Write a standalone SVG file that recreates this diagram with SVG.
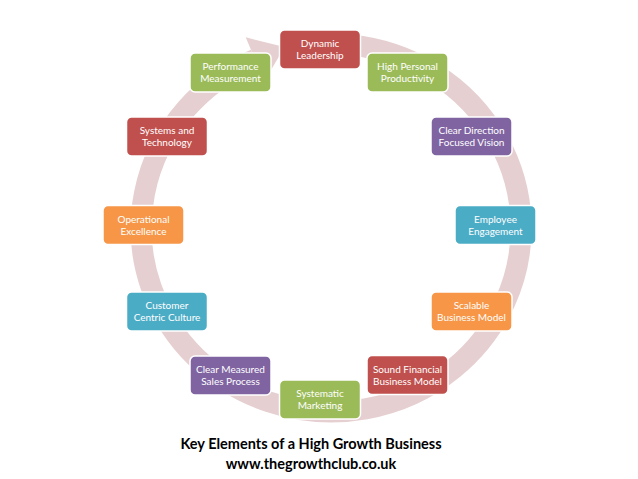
<svg xmlns="http://www.w3.org/2000/svg" width="638" height="479" viewBox="0 0 638 479">
<style>
.box{stroke:#ffffff;stroke-width:1.5}
.red{fill:#C0504D}.green{fill:#9BBB59}.purple{fill:#8064A2}.teal{fill:#4BACC6}.orange{fill:#F79646}
.lbl{font-family:Lato,"Liberation Sans",sans-serif;font-size:10px;fill:#ffffff;text-anchor:middle}
.title{font-family:Lato,"Liberation Sans",sans-serif;font-size:14.5px;font-weight:bold;fill:#000000;text-anchor:middle}
.ring{fill:none;stroke:#E6CFD1;stroke-width:21}
</style>
<rect width="638" height="479" fill="#ffffff"/>
<g id="connectors">
<path class="ring" d="M340,44.2 A190,184 0 1 1 255,59.4"/>
<polygon points="245.7,37.3 264.3,81.5 284.5,47" fill="#E6CFD1"/>
</g>
<g id="n0"><rect class="box red" x="279.5" y="30" width="81" height="39" rx="5"/><text class="lbl" x="320" y="47">Dynamic</text><text class="lbl" x="320" y="59">Leadership</text></g>
<g id="n1"><rect class="box green" x="367" y="53" width="81" height="39" rx="5"/><text class="lbl" x="407.5" y="70">High Personal</text><text class="lbl" x="407.5" y="82">Productivity</text></g>
<g id="n2"><rect class="box purple" x="431" y="117" width="81" height="39" rx="5"/><text class="lbl" x="471.5" y="134">Clear Direction</text><text class="lbl" x="471.5" y="146">Focused Vision</text></g>
<g id="n3"><rect class="box teal" x="455" y="205.5" width="81" height="39" rx="5"/><text class="lbl" x="495.5" y="222.5">Employee</text><text class="lbl" x="495.5" y="234.5">Engagement</text></g>
<g id="n4"><rect class="box orange" x="431" y="292" width="81" height="39" rx="5"/><text class="lbl" x="471.5" y="309">Scalable</text><text class="lbl" x="471.5" y="321">Business Model</text></g>
<g id="n5"><rect class="box red" x="367" y="355.5" width="81" height="39" rx="5"/><text class="lbl" x="407.5" y="372.5">Sound Financial</text><text class="lbl" x="407.5" y="384.5">Business Model</text></g>
<g id="n6"><rect class="box green" x="279.5" y="380" width="81" height="39" rx="5"/><text class="lbl" x="320" y="397">Systematic</text><text class="lbl" x="320" y="409">Marketing</text></g>
<g id="n7"><rect class="box purple" x="190" y="356" width="81" height="39" rx="5"/><text class="lbl" x="230.5" y="373">Clear Measured</text><text class="lbl" x="230.5" y="385">Sales Process</text></g>
<g id="n8"><rect class="box teal" x="126.5" y="292" width="81" height="39" rx="5"/><text class="lbl" x="167" y="309">Customer</text><text class="lbl" x="167" y="321">Centric Culture</text></g>
<g id="n9"><rect class="box orange" x="103" y="205.5" width="81" height="39" rx="5"/><text class="lbl" x="143.5" y="222.5">Operational</text><text class="lbl" x="143.5" y="234.5">Excellence</text></g>
<g id="n10"><rect class="box red" x="126.5" y="117" width="81" height="39" rx="5"/><text class="lbl" x="167" y="134">Systems and</text><text class="lbl" x="167" y="146">Technology</text></g>
<g id="n11"><rect class="box green" x="190" y="53" width="81" height="39" rx="5"/><text class="lbl" x="230.5" y="70">Performance</text><text class="lbl" x="230.5" y="82">Measurement</text></g>
<g id="caption"><text class="title" x="311" y="449">Key Elements of a High Growth Business</text><text class="title" x="311" y="469">www.thegrowthclub.co.uk</text></g>
</svg>
